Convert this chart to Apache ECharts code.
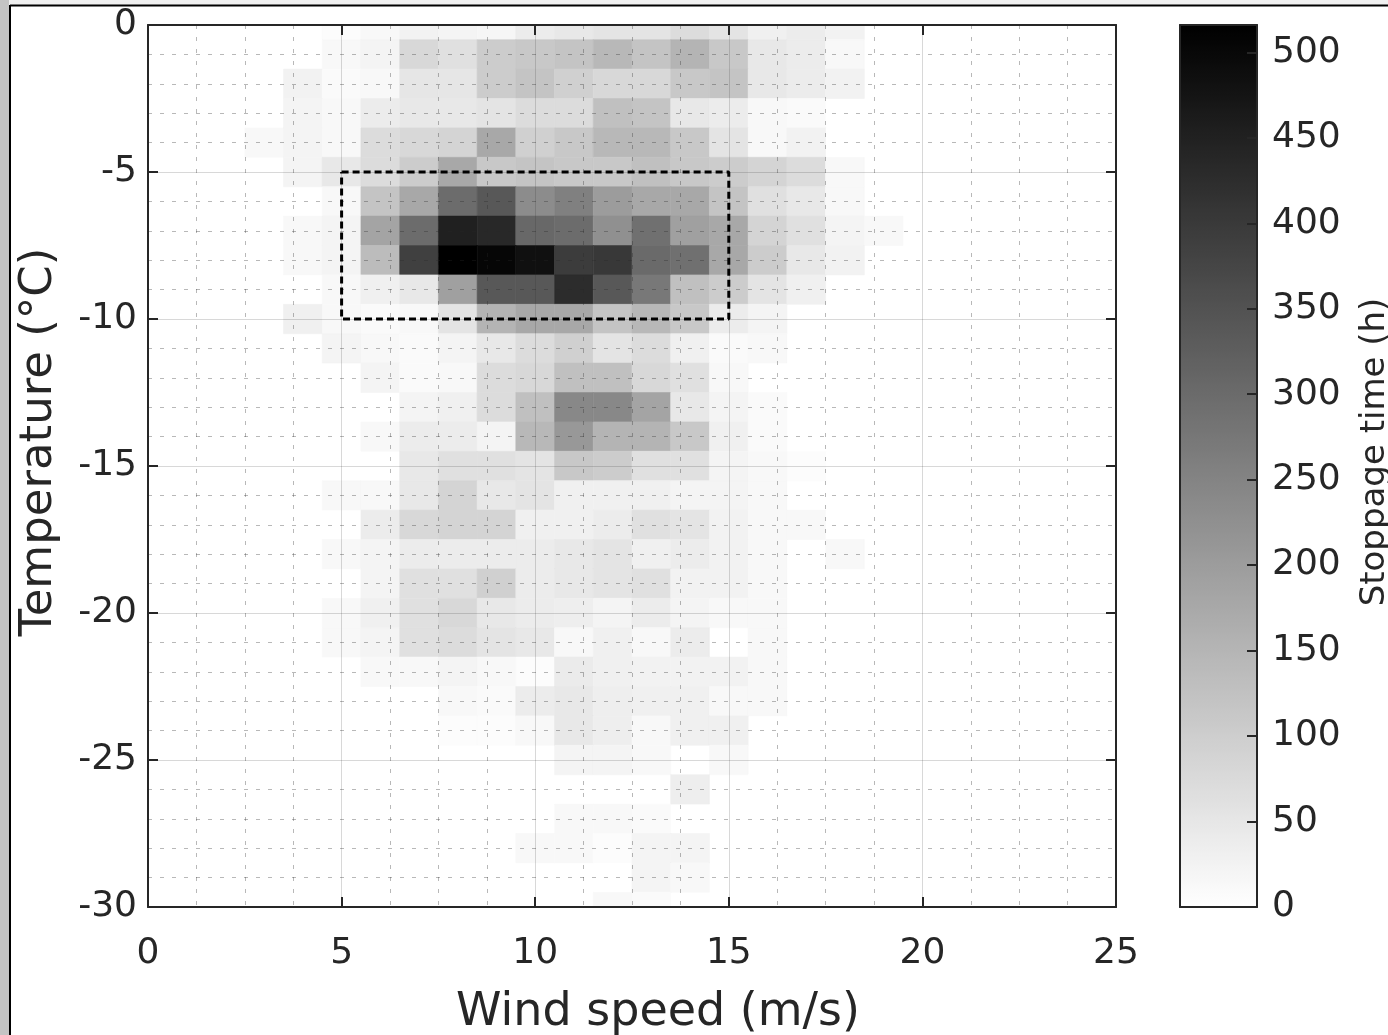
<!DOCTYPE html>
<html>
<head>
<meta charset="utf-8">
<script src="https://cdn.jsdelivr.net/npm/echarts@6/dist/echarts.min.js"></script>
<style>
html,body{margin:0;padding:0;background:#ffffff;}
#chart{width:1388px;height:1035px;}
</style>
</head>
<body>
<div id="chart"></div>
<script>
// ---- data ----
const windSpeeds = [3, 4, 5, 6, 7, 8, 9, 10, 11, 12, 13, 14, 15, 16, 17, 18, 19];
const temperatures = [0, -1, -2, -3, -4, -5, -6, -7, -8, -9, -10, -11, -12, -13, -14, -15,
  -16, -17, -18, -19, -20, -21, -22, -23, -24, -25, -26, -27, -28, -29, -30];
// stoppage time (h); one row per temperature, one column per wind speed
const stoppageHours = [
  [0, 0, 6, 14, 26, 22, 18, 38, 47, 55, 55, 71, 55, 30, 38, 26, 0],          // 0
  [0, 0, 14, 22, 79, 63, 103, 111, 119, 144, 119, 152, 111, 47, 38, 14, 0],  // -1
  [0, 26, 10, 14, 51, 51, 103, 119, 95, 79, 79, 111, 119, 47, 38, 26, 0],    // -2
  [0, 22, 14, 38, 47, 47, 55, 71, 71, 127, 119, 47, 38, 14, 10, 0, 0],       // -3
  [14, 22, 14, 71, 79, 87, 176, 95, 111, 144, 144, 111, 55, 14, 26, 0, 0],   // -4
  [0, 22, 47, 71, 103, 176, 111, 119, 111, 111, 127, 111, 103, 87, 71, 14, 0], // -5
  [0, 0, 14, 119, 176, 297, 338, 233, 257, 200, 176, 176, 119, 63, 47, 14, 0], // -6
  [0, 14, 22, 184, 297, 451, 435, 305, 297, 225, 289, 192, 176, 87, 63, 22, 14], // -7
  [0, 14, 22, 136, 387, 516, 504, 484, 395, 403, 301, 289, 176, 103, 47, 26, 0], // -8
  [0, 0, 14, 30, 47, 192, 338, 338, 427, 338, 273, 127, 103, 55, 30, 0, 0],  // -9
  [0, 30, 14, 10, 14, 55, 152, 176, 176, 119, 144, 111, 38, 22, 0, 0, 0],    // -10
  [0, 0, 22, 14, 10, 22, 47, 71, 95, 55, 71, 30, 10, 14, 0, 0, 0],           // -11
  [0, 0, 0, 22, 10, 14, 71, 79, 127, 127, 79, 63, 14, 0, 0, 0, 0],           // -12
  [0, 0, 0, 0, 22, 30, 71, 127, 241, 241, 184, 47, 22, 10, 0, 0, 0],         // -13
  [0, 0, 0, 14, 38, 38, 22, 144, 208, 152, 152, 111, 30, 10, 0, 0, 0],       // -14
  [0, 0, 0, 0, 47, 63, 63, 55, 111, 103, 63, 63, 22, 14, 6, 0, 0],           // -15
  [0, 0, 14, 14, 47, 87, 47, 55, 30, 30, 30, 22, 22, 14, 0, 0, 0],           // -16
  [0, 0, 0, 38, 79, 87, 87, 30, 30, 38, 63, 55, 26, 14, 14, 0, 0],           // -17
  [0, 0, 14, 22, 38, 38, 38, 38, 47, 55, 30, 38, 26, 14, 0, 14, 0],          // -18
  [0, 0, 0, 22, 63, 63, 95, 38, 47, 55, 63, 26, 26, 14, 0, 0, 0],            // -19
  [0, 0, 14, 30, 63, 79, 47, 38, 34, 22, 38, 22, 14, 14, 0, 0, 0],           // -20
  [0, 0, 14, 22, 63, 71, 55, 47, 14, 30, 14, 38, 0, 14, 0, 0, 0],            // -21
  [0, 0, 0, 14, 14, 22, 14, 6, 40, 30, 26, 26, 26, 14, 0, 0, 0],             // -22
  [0, 0, 0, 0, 0, 14, 10, 38, 47, 34, 30, 30, 14, 14, 0, 0, 0],              // -23
  [0, 0, 0, 0, 0, 6, 6, 14, 47, 34, 14, 30, 30, 0, 0, 0, 0],                 // -24
  [0, 0, 0, 0, 0, 0, 0, 0, 22, 22, 14, 0, 14, 0, 0, 0, 0],                   // -25
  [0, 0, 0, 0, 0, 0, 0, 0, 0, 0, 0, 34, 0, 0, 0, 0, 0],                      // -26
  [0, 0, 0, 0, 0, 0, 0, 0, 14, 14, 10, 0, 0, 0, 0, 0, 0],                    // -27
  [0, 0, 0, 0, 0, 0, 0, 14, 14, 6, 22, 22, 0, 0, 0, 0, 0],                   // -28
  [0, 0, 0, 0, 0, 0, 0, 0, 0, 0, 22, 14, 0, 0, 0, 0, 0],                     // -29
  [0, 0, 0, 0, 0, 0, 0, 0, 0, 14, 10, 0, 0, 0, 0, 0, 0]                      // -30
];
// highlighted region (dashed box)
const boxWind = [5, 15];
const boxTemp = [-5, -10];
// axis ranges / colour scale
const xRange = [0, 25];
const yRange = [-30, 0];
const colorRange = [0, 516];

// ---- build series data ----
const cells = [];
temperatures.forEach(function (t, i) {
  windSpeeds.forEach(function (w, j) {
    const v = stoppageHours[i][j];
    if (v > 0) cells.push([w, t, v]);
  });
});
const boxLine = [
  [boxWind[0], boxTemp[0]], [boxWind[1], boxTemp[0]],
  [boxWind[1], boxTemp[1]], [boxWind[0], boxTemp[1]], [boxWind[0], boxTemp[0]]
];

const FONT = 'DejaVu Sans';
const INK = '#262626';

function frameAxis(extra) {
  return Object.assign({
    type: 'value',
    z: 6,
    axisLine: { show: true, onZero: false, lineStyle: { color: INK, width: 2 } },
    axisTick: { show: true, inside: true, length: 10, lineStyle: { color: INK, width: 2 } },
    axisLabel: { show: false },
    splitLine: { show: false }
  }, extra);
}

const chart = echarts.init(document.getElementById('chart'), null, { renderer: 'canvas' });
chart.setOption({
  animation: false,
  backgroundColor: '#ffffff',
  grid: [
    { left: 148, top: 25, width: 968, height: 882, containLabel: false, outerBoundsMode: 'none' },
    { left: 1180, top: 25, width: 77, height: 882, containLabel: false, outerBoundsMode: 'none' }
  ],
  xAxis: [
    frameAxis({
      gridIndex: 0, min: xRange[0], max: xRange[1], interval: 5, position: 'bottom',
      axisLabel: { show: true, fontSize: 36, color: INK, fontFamily: FONT, margin: 29 },
      splitLine: { show: true, lineStyle: { color: 'rgba(38,38,38,0.18)', width: 1 } },
      minorTick: { show: false, splitNumber: 4 },
      minorSplitLine: { show: true, lineStyle: { color: 'rgba(38,38,38,0.33)', width: 1, type: [4, 8] } },
      name: 'Wind speed (m/s)', nameLocation: 'middle', nameGap: 83,
      nameTextStyle: { fontSize: 46, color: INK, fontFamily: FONT, padding: [0, 0, 0, 52] }
    }),
    frameAxis({ gridIndex: 0, min: xRange[0], max: xRange[1], interval: 5, position: 'top' }),
    frameAxis({ gridIndex: 1, min: 0, max: 1, position: 'bottom', axisTick: { show: false }, z: 10 }),
    frameAxis({ gridIndex: 1, min: 0, max: 1, position: 'top', axisTick: { show: false }, z: 10 })
  ],
  yAxis: [
    frameAxis({
      gridIndex: 0, min: yRange[0], max: yRange[1], interval: 5, position: 'left',
      axisLabel: { show: true, fontSize: 36, color: INK, fontFamily: FONT, margin: 11, padding: [6, 0, 0, 0] },
      splitLine: { show: true, lineStyle: { color: 'rgba(38,38,38,0.18)', width: 1 } },
      minorTick: { show: false, splitNumber: 5 },
      minorSplitLine: { show: true, lineStyle: { color: 'rgba(38,38,38,0.33)', width: 1, type: [4, 8] } },
      name: 'Temperature (°C)', nameLocation: 'middle', nameGap: 86, nameRotate: 90,
      nameTextStyle: { fontSize: 45, color: INK, fontFamily: FONT, padding: [0, 0, 0, 48] }
    }),
    frameAxis({ gridIndex: 0, min: yRange[0], max: yRange[1], interval: 5, position: 'right' }),
    frameAxis({ gridIndex: 1, min: colorRange[0], max: colorRange[1], position: 'left', axisTick: { show: false }, z: 10 }),
    frameAxis({
      gridIndex: 1, min: colorRange[0], max: colorRange[1], interval: 50, position: 'right', z: 10,
      axisLabel: {
        show: true, fontSize: 36, color: INK, fontFamily: FONT, margin: 15, padding: [4, 0, 0, 0],
        formatter: function (v) { return v % 50 === 0 ? String(v) : ''; }
      },
      name: 'Stoppage time (h)', nameLocation: 'middle', nameGap: 101, nameRotate: 90,
      nameTextStyle: { fontSize: 34, color: INK, fontFamily: FONT, padding: [0, 0, 0, 28] }
    })
  ],
  visualMap: {
    type: 'continuous',
    seriesIndex: 0,
    dimension: 2,
    min: colorRange[0],
    max: colorRange[1],
    calculable: false,
    orient: 'vertical',
    left: 1180,
    top: 25,
    itemWidth: 77,
    itemHeight: 882,
    padding: 0,
    text: null,
    hoverLink: false,
    inRange: { color: ['#ffffff', '#000000'] }
  },
  graphic: [
    { type: 'rect', left: 0, top: 0, shape: { width: 1388, height: 5 }, style: { fill: '#f0f0f0' }, z: 100 },
    { type: 'rect', left: 0, top: 0, shape: { width: 9, height: 1035 }, style: { fill: '#c4c4c4' }, z: 100 },
    { type: 'line', shape: { x1: 10, y1: 5.5, x2: 1388, y2: 5.5 }, style: { stroke: '#000', lineWidth: 2 }, z: 101 },
    { type: 'line', shape: { x1: 10, y1: 5, x2: 10, y2: 1035 }, style: { stroke: '#000', lineWidth: 2 }, z: 101 }
  ],
  series: [
    {
      type: 'custom',
      xAxisIndex: 0,
      yAxisIndex: 0,
      data: cells,
      encode: { x: 0, y: 1 },
      silent: true,
      z: 2,
      renderItem: function (params, api) {
        const w = api.value(0), t = api.value(1);
        const p0 = api.coord([w - 0.5, t + 0.5]);
        const p1 = api.coord([w + 0.5, t - 0.5]);
        const cs = params.coordSys;
        const r = echarts.graphic.clipRectByRect(
          { x: p0[0], y: p0[1], width: p1[0] - p0[0], height: p1[1] - p0[1] },
          { x: cs.x, y: cs.y, width: cs.width, height: cs.height }
        );
        if (!r) return null;
        const c = api.visual('color');
        return { type: 'rect', shape: r, style: { fill: c, stroke: c, lineWidth: 0.6 } };
      }
    },
    {
      type: 'line',
      xAxisIndex: 0,
      yAxisIndex: 0,
      data: boxLine,
      symbol: 'none',
      silent: true,
      z: 12,
      lineStyle: { color: '#000000', width: 3, type: [7, 4] }
    }
  ]
});
</script>
</body>
</html>
